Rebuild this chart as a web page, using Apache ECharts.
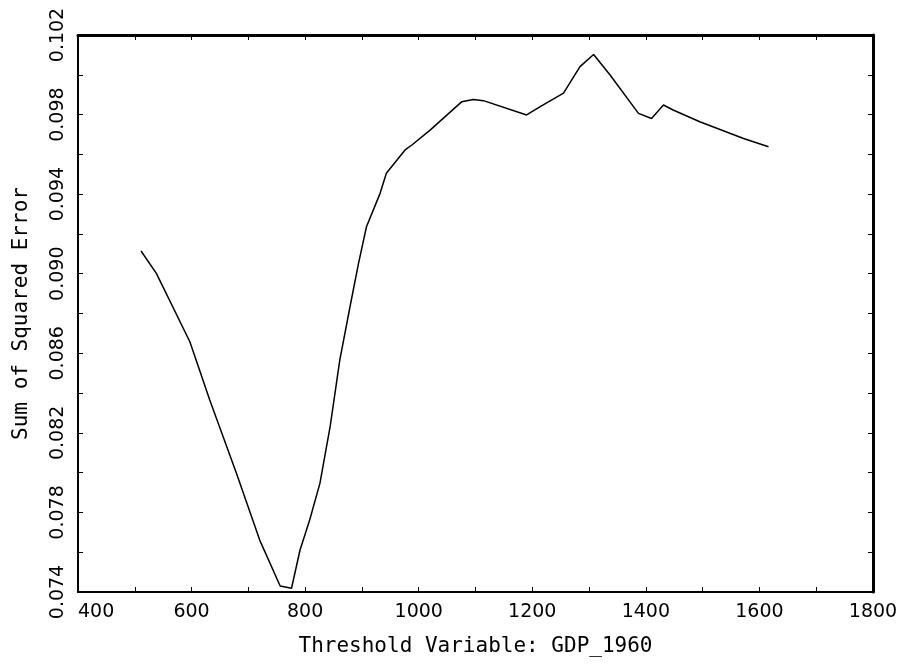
<!DOCTYPE html>
<html>
<head>
<meta charset="utf-8">
<script src="https://cdn.jsdelivr.net/npm/echarts@6/dist/echarts.min.js"></script>
<style>
html,body{margin:0;padding:0;background:#fff;}
#main{width:903px;height:668px;}
</style>
</head>
<body>
<div id="main"></div>
<script>
// Data
const thresholdValues = [511, 538, 597, 632, 679, 720, 756, 776, 791, 808, 826, 844, 861, 879, 894, 908, 932, 943, 976, 988, 1020, 1076, 1096, 1114, 1190, 1214, 1255, 1284, 1308, 1337, 1387, 1410, 1431, 1448, 1495, 1572, 1616];
const sseValues = [0.09114, 0.09002, 0.08658, 0.08365, 0.07997, 0.07661, 0.0743, 0.07419, 0.07611, 0.07762, 0.07946, 0.08231, 0.08566, 0.08834, 0.09052, 0.09236, 0.09404, 0.09505, 0.09622, 0.09647, 0.09722, 0.09865, 0.09876, 0.0987, 0.09798, 0.0984, 0.09908, 0.10041, 0.10102, 0.09999, 0.09806, 0.0978, 0.09848, 0.09823, 0.09764, 0.0968, 0.09638];
const xTickLabels = [400, 600, 800, 1000, 1200, 1400, 1600, 1800];
const yTickLabels = ['0.074', '0.078', '0.082', '0.086', '0.090', '0.094', '0.098', '0.102'];
const xTitle = 'Threshold Variable: GDP_1960';
const yTitle = 'Sum of Squared Error';

const X_MIN = 400, X_MAX = 1800, X_STEP = 100;
const Y_MIN = 0.074, Y_MAX = 0.102, Y_STEP = 0.002;

const labelFont = {fontFamily: 'DejaVu Sans', fontSize: 19, color: '#000'};
const titleFont = {fontFamily: 'DejaVu Sans Mono', fontSize: 21, color: '#000'};

function xLabel(v) {
  const s = String(Math.round(v));
  return xTickLabels.map(String).indexOf(s) >= 0 ? s : '';
}
function yLabel(v) {
  const s = v.toFixed(3);
  return yTickLabels.indexOf(s) >= 0 ? s : '';
}

const chart = echarts.init(document.getElementById('main'), null, {renderer: 'canvas'});
const tickStyle = {show: true, inside: true, length: 5, lineStyle: {color: '#000', width: 1}};
chart.setOption({
  animation: false,
  backgroundColor: '#fff',
  grid: {left: 78, right: 30, top: 35, bottom: 76, containLabel: false},
  xAxis: [{
    type: 'value', min: X_MIN, max: X_MAX, interval: X_STEP, position: 'bottom',
    axisLine: {show: true, onZero: false, lineStyle: {color: '#000', width: 2}},
    axisTick: tickStyle,
    splitLine: {show: false},
    axisLabel: Object.assign({margin: 11, formatter: xLabel, alignMinLabel: 'left', showMinLabel: true, showMaxLabel: true}, labelFont),
    name: xTitle, nameLocation: 'middle', nameGap: 44,
    nameTextStyle: titleFont
  }, {
    type: 'value', min: X_MIN, max: X_MAX, interval: X_STEP, position: 'top',
    axisLine: {show: true, onZero: false, lineStyle: {color: '#000', width: 3}},
    axisTick: tickStyle, axisLabel: {show: false}, splitLine: {show: false}
  }],
  yAxis: [{
    type: 'value', min: Y_MIN, max: Y_MAX, interval: Y_STEP, position: 'left',
    axisLine: {show: true, onZero: false, lineStyle: {color: '#000', width: 2}},
    axisTick: tickStyle,
    splitLine: {show: false},
    axisLabel: Object.assign({margin: 10, rotate: 90, formatter: yLabel, showMinLabel: true, showMaxLabel: true}, labelFont),
    name: yTitle, nameLocation: 'middle', nameGap: 46, nameRotate: 90,
    nameTextStyle: titleFont
  }, {
    type: 'value', min: Y_MIN, max: Y_MAX, interval: Y_STEP, position: 'right',
    axisLine: {show: true, onZero: false, lineStyle: {color: '#000', width: 3}},
    axisTick: tickStyle, axisLabel: {show: false}, splitLine: {show: false}
  }],
  series: [{
    type: 'line',
    xAxisIndex: 0, yAxisIndex: 0,
    data: thresholdValues.map((x, i) => [x, sseValues[i]]),
    showSymbol: false, symbol: 'none',
    lineStyle: {color: '#000', width: 1.5},
    silent: true
  }]
});
</script>
</body>
</html>
